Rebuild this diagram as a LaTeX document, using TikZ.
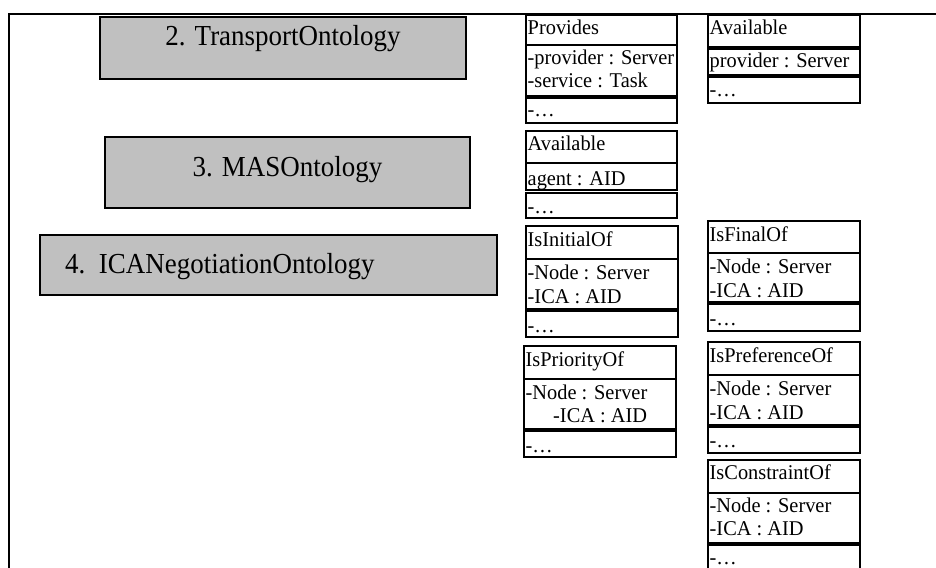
\documentclass[tikz,border=0pt]{standalone}
\usepackage{fontspec}
\setmainfont{Liberation Serif}
\newfontfamily\umlfont[FakeStretch=0.97]{Liberation Serif}
\newfontfamily\ontofont[FakeStretch=0.93]{Liberation Serif}
\definecolor{ontogray}{HTML}{C0C0C0}
\tikzset{
  framerule/.style={line width=2.4pt},
  ontobox/.style={draw, line width=2.6pt, fill=ontogray},
  ontotext/.style={font=\ontofont\fontsize{29}{31}\selectfont, inner sep=0pt},
  compart/.style={draw, line width=2.4pt},
  umltext/.style={font=\umlfont\fontsize{21}{23}\selectfont, inner sep=0pt, anchor=base west},
}
\begin{document}
\begin{tikzpicture}[x=1pt,y=-1pt]
\useasboundingbox (0,0) rectangle (936,567);

% outer frame (open to the right and bottom)
\draw[framerule] (9,575) -- (9,14) -- (945,14);

% package boxes
\draw[ontobox] (100,17) rectangle (466,79);
\node[ontotext, anchor=base] (transport) at (283,46) {2. TransportOntology};
\draw[ontobox] (105,137) rectangle (470,208);
\node[ontotext, anchor=base] (mas) at (287.5,176) {3. MASOntology};
\draw[ontobox] (40,235) rectangle (497,295);
\node[ontotext, anchor=base west] (ica) at (65,273) {4.\ \ ICANegotiationOntology};

% Provides
\draw[compart] (526,15) rectangle (677,45);
\draw[compart] (526,45) rectangle (677,96);
\draw[compart] (526,98) rectangle (677,123);
\node[umltext] (provT) at (527.5,35) {Provides};
\node[umltext] (provA) at (527.5,65) {-provider : Server};
\node[umltext] (provB) at (527.5,88) {-service : Task};
\node[umltext] (provO) at (527.5,117) {-…};

% Available (provider)
\draw[compart] (708,15) rectangle (860,47);
\draw[compart] (708,49) rectangle (860,75);
\draw[compart] (708,77) rectangle (860,103);
\node[umltext] (avpT) at (709.5,35) {Available};
\node[umltext] (avpA) at (709.5,68) {provider : Server};
\node[umltext] (avpO) at (709.5,97) {-…};

% Available (agent)
\draw[compart] (526,131) rectangle (677,163);
\draw[compart] (526,163) rectangle (677,190);
\draw[compart] (526,193) rectangle (677,218);
\node[umltext] (avaT) at (527.5,150) {Available};
\node[umltext] (avaA) at (527.5,185) {agent : AID};
\node[umltext] (avaO) at (527.5,213) {-…};

% IsInitialOf
\draw[compart] (526,226) rectangle (678,259);
\draw[compart] (526,259) rectangle (678,309);
\draw[compart] (526,311) rectangle (678,337);
\node[umltext] (iniT) at (527.5,246) {IsInitialOf};
\node[umltext] (iniA) at (527.5,279) {-Node : Server};
\node[umltext] (iniB) at (527.5,303) {-ICA : AID};
\node[umltext] (iniO) at (527.5,332) {-…};

% IsFinalOf
\draw[compart] (708,221) rectangle (860,253);
\draw[compart] (708,253) rectangle (860,302);
\draw[compart] (708,304) rectangle (860,331);
\node[umltext] (finT) at (709.5,241) {IsFinalOf};
\node[umltext] (finA) at (709.5,273) {-Node : Server};
\node[umltext] (finB) at (709.5,297) {-ICA : AID};
\node[umltext] (finO) at (709.5,325) {-…};

% IsPriorityOf
\draw[compart] (524,346) rectangle (676,379);
\draw[compart] (524,379) rectangle (676,429);
\draw[compart] (524,431) rectangle (676,457);
\node[umltext] (priT) at (525.5,366) {IsPriorityOf};
\node[umltext] (priA) at (525.5,399) {-Node : Server};
\node[umltext] (priB) at (553,422) {-ICA : AID};
\node[umltext] (priO) at (525.5,452) {-…};

% IsPreferenceOf
\draw[compart] (708,342) rectangle (860,375);
\draw[compart] (708,375) rectangle (860,425);
\draw[compart] (708,427) rectangle (860,453);
\node[umltext] (preT) at (709.5,362) {IsPreferenceOf};
\node[umltext] (preA) at (709.5,395) {-Node : Server};
\node[umltext] (preB) at (709.5,419) {-ICA : AID};
\node[umltext] (preO) at (709.5,447) {-…};

% IsConstraintOf
\draw[compart] (708,460) rectangle (860,493);
\draw[compart] (708,493) rectangle (860,543);
\draw[compart] (708,545) rectangle (860,580);
\node[umltext] (conT) at (709.5,479) {IsConstraintOf};
\node[umltext] (conA) at (709.5,512) {-Node : Server};
\node[umltext] (conB) at (709.5,535) {-ICA : AID};
\node[umltext] (conO) at (709.5,564) {-…};
\end{tikzpicture}
\end{document}
